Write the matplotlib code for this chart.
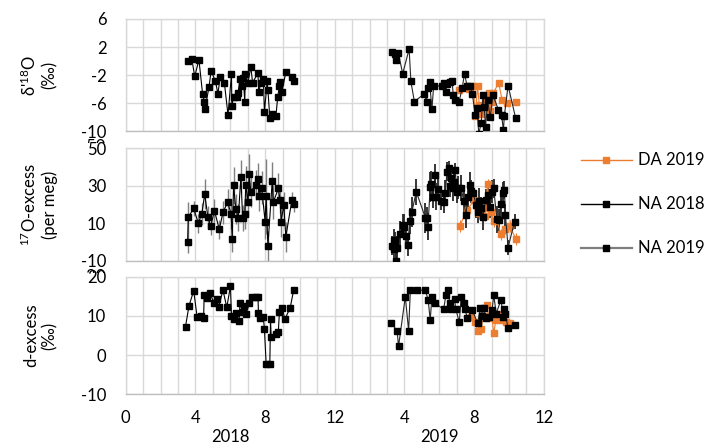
import matplotlib
matplotlib.use('Agg')
import matplotlib.pyplot as plt
from matplotlib.lines import Line2D
from matplotlib.ticker import MultipleLocator
from matplotlib.transforms import Bbox

plt.rcParams['font.family'] = ['Lato', 'DejaVu Sans']
plt.rcParams['mathtext.fontset'] = 'custom'
plt.rcParams['mathtext.rm'] = 'Lato'
plt.rcParams['mathtext.it'] = 'Lato:italic'
plt.rcParams['axes.unicode_minus'] = False

# time axis: months of 2018 run 0-12, months of 2019 run 12-24
# --- d18O ---
na18_d18o_t = [3.59, 3.79, 3.96, 4.20, 4.41, 4.51, 4.55, 4.78, 4.90, 5.15, 5.29, 5.42,
               5.66, 5.87, 6.07, 6.09, 6.19, 6.36, 6.44, 6.56, 6.67, 6.75, 6.83, 6.87,
               7.02, 7.18, 7.28, 7.59, 7.63, 7.75, 7.90, 7.96, 8.12, 8.16, 8.27, 8.41,
               8.62, 8.72, 8.82, 8.86, 8.96, 9.19, 9.54, 9.66]
na18_d18o = [0.0, 0.3, -2.2, 0.2, -4.7, -5.8, -6.8, -3.7, -1.4, -2.9, -4.7, -2.3,
             -3.1, -7.7, -1.9, -6.4, -5.2, -5.2, -4.6, -2.6, -3.5, -2.4, -5.8, -1.9,
             -3.1, -0.8, -3.1, -1.7, -4.4, -3.2, -2.6, -7.3, -2.9, -4.1, -8.1, -7.6,
             -7.9, -5.2, -3.6, -3.0, -4.4, -1.6, -2.3, -2.9]
na19_d18o_t = [15.28, 15.45, 15.53, 15.65, 15.90, 16.27, 16.37, 16.57, 17.13, 17.27,
               17.33, 17.44, 17.58, 17.68, 18.15, 18.26, 18.36, 18.46, 18.60, 18.73,
               18.81, 18.90, 19.14, 19.32, 19.45, 19.59, 19.79, 19.90, 20.06, 20.16,
               20.27, 20.41, 20.51, 20.57, 20.66, 20.78, 20.92, 21.09, 21.40, 21.58,
               21.68, 21.74, 21.95, 22.38]
na19_d18o = [1.3, 1.0, 0.2, 1.1, -1.8, 1.7, -2.9, -5.8, -4.7, -5.8,
             -3.9, -3.0, -6.8, -3.5, -3.6, -3.1, -4.4, -3.3, -3.0, -2.9,
             -4.9, -5.5, -5.8, -3.8, -1.8, -3.5, -3.5, -4.7, -7.7, -6.7,
             -10.4, -8.8, -4.8, -6.5, -9.4, -5.6, -8.0, -4.9, -7.0, -7.7,
             -9.9, -7.8, -3.5, -8.1]
da19_d18o_t = [19.15, 19.70, 19.95, 20.07, 20.20, 20.30, 20.45, 20.60, 20.70, 20.83,
               20.90, 21.00, 21.10, 21.41, 21.60, 21.89, 22.40]
da19_d18o = [-4.1, -4.0, -3.6, -7.9, -3.6, -6.3, -7.6, -5.4, -7.0, -4.6,
             -7.2, -5.8, -4.6, -3.1, -5.5, -6.0, -5.8]

# --- 17O-excess (per meg) with 1 sigma ---
na18_o17_t = [3.55, 3.59, 3.90, 4.16, 4.37, 4.53, 4.72, 4.88, 5.09, 5.37, 5.58, 5.85,
              6.05, 6.11, 6.19, 6.32, 6.46, 6.61, 6.71, 6.83, 6.89, 7.02, 7.08, 7.18,
              7.45, 7.59, 7.65, 7.80, 8.00, 8.06, 8.16, 8.41, 8.47, 8.76, 8.86, 8.92,
              9.07, 9.19, 9.54, 9.66]
na18_o17 = [0.0, 13.1, 18.0, 10.0, 15.0, 25.6, 13.1, 8.5, 16.7, 6.7, 15.8, 21.2,
            15.0, 1.8, 30.2, 17.4, 13.0, 34.9, 12.6, 15.0, 30.4, 21.5, 36.1, 26.9,
            30.4, 33.4, 24.5, 29.0, 10.8, 24.5, -2.2, 32.7, 21.2, 28.6, 22.4, 10.8,
            19.7, 2.8, 22.4, 20.1]
na18_o17_err = [6, 8, 4, 5, 6, 8, 6, 5, 6, 5, 6, 7,
                8, 7, 10, 8, 7, 9, 7, 8, 10, 8, 11, 8,
                8, 9, 8, 9, 9, 20, 8, 10, 9, 8, 7, 8,
                7, 8, 4, 4]
na19_o17_t = [15.30, 15.38, 15.42, 15.48, 15.53, 15.60, 15.75, 15.90, 16.00, 16.10,
              16.20, 16.30, 16.43, 16.68, 17.20, 17.29, 17.35, 17.48, 17.55, 17.65,
              17.77, 17.82, 17.90, 18.10, 18.25, 18.35, 18.44, 18.53, 18.60, 18.69,
              18.76, 18.85, 18.92, 19.00, 19.10, 19.26, 19.40, 19.53, 19.65, 19.78,
              19.84, 19.96, 20.10, 20.20, 20.30, 20.41, 20.51, 20.66, 20.82, 20.92,
              21.03, 21.13, 21.30, 21.44, 21.54, 21.64, 21.74, 21.80, 21.95, 22.32]
na19_o17 = [-2.0, 1.0, -4.0, 0.5, -10.0, -3.0, 4.0, 9.0, 8.0, 3.0,
            -1.6, 11.0, 16.2, 26.8, 13.0, 12.6, 8.2, 29.5, 31.0, 24.0,
            35.7, 24.2, 28.0, 22.0, 21.5, 26.0, 37.5, 39.3, 30.0, 34.0,
            28.6, 32.0, 38.4, 26.8, 29.0, 28.6, 22.0, 14.4, 24.2, 30.4,
            27.0, 26.0, 19.7, 16.2, 22.0, 18.0, 13.5, 22.4, 25.0, 18.8,
            26.9, 28.6, 12.0, 11.7, 20.0, 26.0, 27.7, 14.4, -3.0, 10.8]
na19_o17_err = [5, 6, 6, 5, 6, 6, 7, 6, 7, 6,
                6, 7, 8, 7, 8, 6, 7, 8, 7, 6,
                6, 7, 6, 5, 6, 7, 5, 4, 6, 6,
                7, 6, 4, 6, 6, 7, 8, 7, 6, 7,
                6, 6, 7, 6, 7, 6, 7, 6, 7, 6,
                6, 5, 7, 6, 7, 6, 5, 6, 4, 4]
da19_o17_t = [19.17, 19.60, 20.00, 20.15, 20.30, 20.45, 20.60, 20.78, 20.87, 20.95,
              21.12, 21.30, 21.54, 21.75, 22.04, 22.40]
da19_o17 = [8.5, 17.0, 22.4, 19.0, 15.3, 19.7, 14.0, 30.8, 18.0, 16.2,
            11.2, 12.0, 4.1, 7.0, 8.5, 1.6]
da19_o17_err = [3, 3, 3, 3, 3, 3, 3, 3, 3, 3, 3, 3, 3, 3, 3, 3]

# --- d-excess ---
na18_dex_t = [3.43, 3.63, 3.90, 4.10, 4.31, 4.47, 4.50, 4.68, 4.82, 5.09, 5.23, 5.33,
              5.58, 5.80, 6.01, 6.07, 6.19, 6.30, 6.50, 6.56, 6.71, 6.81, 6.91, 7.08,
              7.24, 7.49, 7.59, 7.62, 7.69, 7.90, 7.96, 8.06, 8.27, 8.31, 8.35, 8.62,
              8.76, 8.82, 8.99, 9.13, 9.44, 9.64]
na18_dex = [7.3, 12.6, 16.4, 9.6, 10.0, 9.5, 15.3, 14.5, 15.8, 13.2, 14.3, 12.2,
            16.6, 12.2, 17.6, 10.0, 9.2, 10.7, 8.7, 13.2, 11.1, 12.5, 10.4, 13.2,
            14.9, 14.9, 14.9, 10.7, 9.4, 9.6, 6.7, -2.3, -2.3, 9.1, 4.5, 5.3,
            6.0, 10.9, 12.1, 9.1, 12.1, 16.6]
na19_dex_t = [15.22, 15.58, 15.66, 16.05, 16.24, 16.34, 16.72, 17.20, 17.36, 17.48,
              17.58, 17.77, 18.25, 18.38, 18.50, 18.60, 18.70, 18.88, 18.95, 19.15,
              19.26, 19.40, 19.47, 19.62, 19.90, 20.20, 20.35, 20.45, 20.57, 20.66,
              20.88, 21.03, 21.13, 21.27, 21.54, 21.68, 21.74, 21.80, 21.95, 22.36]
na19_dex = [8.3, 6.2, 2.2, 14.9, 6.2, 16.6, 16.6, 16.6, 14.1, 9.0,
            14.9, 13.2, 11.7, 15.3, 16.6, 13.2, 11.7, 14.2, 11.7, 8.4,
            14.9, 13.2, 11.7, 9.4, 11.5, 8.1, 11.9, 10.0, 11.9, 9.4,
            9.8, 11.5, 15.3, 10.6, 14.1, 9.8, 11.7, 10.5, 6.8, 7.7]
da19_dex_t = [19.80, 20.05, 20.20, 20.40, 20.55, 20.72, 20.85, 21.00, 21.13, 21.25,
              21.40, 21.60, 21.85, 22.05]
da19_dex = [9.8, 8.5, 6.2, 6.6, 10.0, 12.8, 9.5, 10.2, 5.6, 9.0,
            10.5, 9.0, 8.5, 8.1]

orange = '#ED7D31'
grid_c = '#d9d9d9'
fs = 12

fig = plt.figure(figsize=(7.11, 4.47), dpi=100)
left, width = 0.1769, 0.5879
ax1 = fig.add_axes([left, 0.7069, width, 0.2506])
ax2 = fig.add_axes([left, 0.4168, width, 0.2515])
ax3 = fig.add_axes([left, 0.1179, width, 0.2630])


def style(ax, ylim, yticks):
    ax.set_xlim(0, 24)
    ax.set_ylim(*ylim)
    ax.set_yticks(yticks)
    ax.xaxis.set_major_locator(MultipleLocator(4))
    ax.xaxis.set_minor_locator(MultipleLocator(1))
    ax.grid(which='both', color=grid_c, lw=1.0)
    ax.set_axisbelow(True)
    for sp in ax.spines.values():
        sp.set_color(grid_c)
        sp.set_linewidth(1.0)
    ax.spines['bottom'].set_color('#bfbfbf')
    ax.tick_params(which='both', length=0, labelsize=fs, colors='black')
    ax.tick_params(axis='y', pad=14)
    ax.tick_params(axis='x', pad=11)


def series(ax, t, v, color, lc, z):
    ax.plot(t, v, color=lc, lw=0.8, marker='s', ms=4.8, mfc=color, mec=color,
            zorder=z, clip_on=True)


style(ax1, (-10, 6), [6, 2, -2, -6, -10])
style(ax2, (-10, 50), [50, 30, 10, -10])
style(ax3, (-10, 20), [20, 10, 0, -10])

series(ax1, da19_d18o_t, da19_d18o, orange, orange, 3)
series(ax1, na18_d18o_t, na18_d18o, 'black', 'black', 4)
series(ax1, na19_d18o_t, na19_d18o, 'black', '#262626', 4)

ax2.errorbar(da19_o17_t, da19_o17, yerr=da19_o17_err, fmt='none', ecolor=orange,
             elinewidth=0.8, capsize=0, zorder=2)
ax2.errorbar(na18_o17_t, na18_o17, yerr=na18_o17_err, fmt='none', ecolor='#7f7f7f',
             elinewidth=1.0, capsize=0, zorder=2)
ax2.errorbar(na19_o17_t, na19_o17, yerr=na19_o17_err, fmt='none', ecolor='#262626',
             elinewidth=1.3, capsize=0, zorder=2)
series(ax2, da19_o17_t, da19_o17, orange, orange, 3)
series(ax2, na18_o17_t, na18_o17, 'black', 'black', 4)
series(ax2, na19_o17_t, na19_o17, 'black', '#262626', 4)

series(ax3, da19_dex_t, da19_dex, orange, orange, 3)
series(ax3, na18_dex_t, na18_dex, 'black', 'black', 4)
series(ax3, na19_dex_t, na19_dex, 'black', '#262626', 4)

ax1.set_xticklabels([])
ax2.set_xticklabels([])
ax3.set_xticks([0, 4, 8, 12, 16, 20, 24])
ax3.set_xticklabels(['0', '4', '8', '12', '4', '8', '12'])
for yr, xm in [('2018', 6), ('2019', 18)]:
    ax3.annotate(yr, xy=(xm, 0), xycoords=('data', 'axes fraction'),
                 xytext=(0, -30.5), textcoords='offset points',
                 ha='center', va='center', fontsize=fs)

ax1.set_ylabel("δ'$^{18}$O\n(‰)", fontsize=fs, linespacing=1.2)
ax2.set_ylabel("$^{17}$O-excess\n(per meg)", fontsize=fs, linespacing=1.2)
ax3.set_ylabel("d-excess\n(‰)", fontsize=fs, linespacing=1.2)
for ax in (ax1, ax2, ax3):
    ax.yaxis.set_label_coords(-0.162, 0.5)

# leftover axis labels peeking out between the panels
for s, ytop, ybot in [('-50', 139.5, 143.0), ('-30', 269.0, 273.0)]:
    t = fig.text(105 / 711, 1 - ytop / 447, s, ha='right', va='top', fontsize=fs)
    t.set_clip_box(Bbox.from_extents(0, 447 - ybot, 124, 447 - ytop + 1))
    t.set_clip_on(True)

# legend drawn at the right of the panels
leg = [('DA 2019', orange, orange, 1.0, 160),
       ('NA 2018', 'black', 'black', 1.0, 204),
       ('NA 2019', '#7f7f7f', 'black', 1.6, 248)]
for lab, lc, mc, lw, yp in leg:
    yf = 1 - yp / 447
    fig.add_artist(Line2D([581 / 711, 606 / 711, 632 / 711], [yf, yf, yf], color=lc,
                          lw=lw, marker='s', ms=4.5, mfc=mc, mec=mc, markevery=[1],
                          transform=fig.transFigure))
    fig.text(638 / 711, yf, lab, ha='left', va='center', fontsize=fs)

fig.savefig('out.png', dpi=100)
